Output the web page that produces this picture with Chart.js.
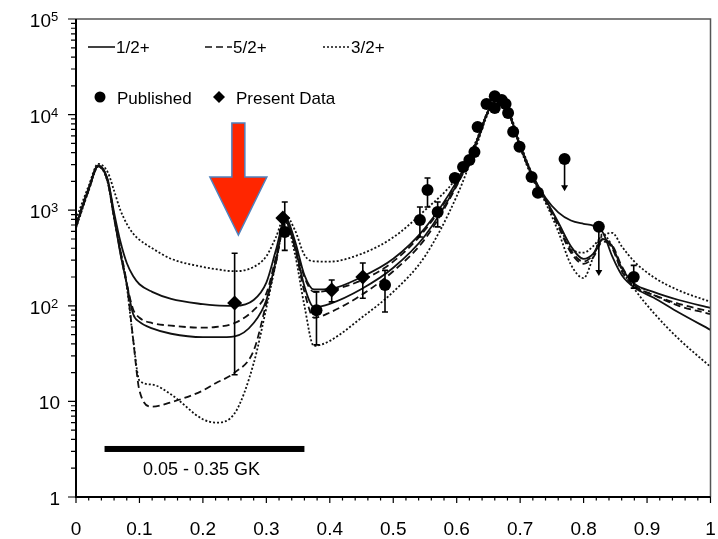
<!DOCTYPE html>
<html><head><meta charset="utf-8">
<script src="https://cdn.jsdelivr.net/npm/chart.js@4.4.1/dist/chart.umd.min.js"></script>
<style>html,body{margin:0;padding:0;background:#fff;}#wrap{width:718px;height:539px;}</style>
</head><body><div id="wrap"><canvas id="c" width="718" height="539"></canvas></div>
<script>
// ---------- data ----------
const xGrid = [0,0.02,0.035,0.05,0.06,0.07,0.08,0.09,0.1,0.12,0.15,0.2,0.22,0.25,0.28,0.3,0.315,0.33,0.345,0.36,0.375,0.4,0.45,0.5,0.55,0.6,0.63,0.65,0.665,0.68,0.7,0.72,0.74,0.76,0.78,0.8,0.815,0.83,0.845,0.86,0.88,0.91,0.95,1.0];
const half1A = [700,1700,2950,2100,950,470,280,205,168,140,118,104,101,100,115,175,380,830,480,210,148,150,200,310,650,2000,5000,11000,14500,11500,4800,2300,1350,950,780,720,690,590,330,210,155,122,85,56];
const half1B = [680,1650,2900,2000,850,350,170,82,68,58,51,47,47,48,66,115,300,780,420,160,97,105,150,250,540,1850,4900,11000,14300,11300,4700,2200,1300,750,420,310,350,500,420,250,170,140,115,95];
const half5A = [720,1680,2920,2050,880,360,170,92,75,66,62,59,60,66,90,135,320,800,450,200,140,145,185,290,620,1950,4900,11000,14300,11300,4700,2250,1280,700,380,290,340,490,400,230,160,130,105,87];
const half5B = [660,1620,2880,2000,850,380,170,45,13,8.8,9.8,13,15.5,20,34,107,280,760,400,140,75,85,130,230,500,1800,4800,10800,14000,11000,4600,2200,1250,680,360,275,320,470,430,260,165,130,100,82];
const half3A = [800,1800,3050,2500,1600,1000,720,570,490,400,310,255,242,230,255,330,520,880,620,340,292,290,350,520,1000,2200,5200,11200,14600,11800,5000,2300,1300,720,400,360,420,540,580,420,290,200,145,110];
const half3B = [650,1600,2850,1950,820,380,160,45,16.5,15,11.8,6.5,6.0,7.5,25,95,280,750,350,100,38,43,75,140,330,1400,4500,10500,14000,11000,4500,2100,1200,600,270,195,320,560,420,240,150,85,45,23];

const pubX  = [0.329,0.379,0.487,0.542,0.554,0.570,0.597,0.610,0.620,0.628,0.633,0.647,0.660,0.660,0.671,0.677,0.681,0.689,0.699,0.718,0.728,0.770,0.824,0.879];
const pubY  = [590,90,165,790,1630,960,2170,2830,3350,4060,7400,12900,15600,11700,14200,12900,10400,6600,4600,2220,1520,3430,670,200];
const pubLo = [380,39,86,525,1080,670,null,null,null,null,null,null,null,null,null,null,null,null,null,null,null,null,null,153];
const pubHi = [1220,140,235,1080,2170,1220,null,null,null,null,null,null,null,null,null,null,null,null,null,null,null,null,null,265];
const pubLimitTo = [null,null,null,null,null,null,null,null,null,null,null,null,null,null,null,null,null,null,null,null,null,1620,210,null];

const presX  = [0.25,0.326,0.403,0.452];
const presY  = [107,830,146,200];
const presLo = [19,null,110,120];
const presHi = [355,null,186,280];

const xTickValues = [0,0.1,0.2,0.3,0.4,0.5,0.6,0.7,0.8,0.9,1];
const xTickLabels = ['0','0.1','0.2','0.3','0.4','0.5','0.6','0.7','0.8','0.9','1'];
const yTickValues = [1,10,100,1000,10000,100000];
const yTickBase = ['1','10','10','10','10','10'];
const yTickExp  = ['','','2','3','4','5'];

const legendLines = ['1/2+','5/2+','3/2+'];
const legendMarks = ['Published','Present Data'];
const rangeLabel = '0.05 - 0.35 GK';
const rangeFrom = 0.045, rangeTo = 0.36;

// ---------- build ----------
const pts = arr => arr.map((v,i)=>({x:xGrid[i], y:v}));
const SOLID = [], DASH = [7,4], DOT = [2,2];
function curve(label, arr, dash){
  return {type:'line', label, data:pts(arr), borderColor:'#111', borderWidth:1.8, borderDash:dash,
          pointRadius:0, fill:false, cubicInterpolationMode:'monotone', order:2};
}
const datasets = [
  curve('1/2+ a', half1A, SOLID), curve('1/2+ b', half1B, SOLID),
  curve('5/2+ a', half5A, DASH),  curve('5/2+ b', half5B, DASH),
  curve('3/2+ a', half3A, DOT),   curve('3/2+ b', half3B, DOT),
  {type:'scatter', label:'Published', data:pubX.map((x,i)=>({x, y:pubY[i]})), pointStyle:'circle',
   pointRadius:6, backgroundColor:'#000', borderColor:'#000', borderWidth:0, order:1},
  {type:'scatter', label:'Present Data', data:presX.map((x,i)=>({x, y:presY[i]})), pointStyle:'rectRot',
   pointRadius:7.5, backgroundColor:'#000', borderColor:'#000', borderWidth:0, order:1}
];

const FONT = '"Liberation Sans", Arial, Helvetica, sans-serif';

const decor = {
  id:'decor',
  afterDatasetsDraw(chart){
    const {ctx, scales:{x, y}} = chart;
    ctx.save();
    ctx.strokeStyle = '#000'; ctx.fillStyle = '#000'; ctx.lineWidth = 1.6;
    const ebar = (xv, lo, hi) => {
      const px = x.getPixelForValue(xv), p1 = y.getPixelForValue(lo), p2 = y.getPixelForValue(hi);
      ctx.beginPath(); ctx.moveTo(px,p1); ctx.lineTo(px,p2);
      ctx.moveTo(px-3,p1); ctx.lineTo(px+3,p1); ctx.moveTo(px-3,p2); ctx.lineTo(px+3,p2); ctx.stroke();
    };
    pubX.forEach((xv,i)=>{ if(pubLo[i]!=null) ebar(xv,pubLo[i],pubHi[i]); });
    presX.forEach((xv,i)=>{ if(presLo[i]!=null) ebar(xv,presLo[i],presHi[i]); });
    pubX.forEach((xv,i)=>{
      if(pubLimitTo[i]==null) return;
      const px = x.getPixelForValue(xv), p1 = y.getPixelForValue(pubY[i]), p2 = y.getPixelForValue(pubLimitTo[i]);
      ctx.beginPath(); ctx.moveTo(px,p1); ctx.lineTo(px,p2-4); ctx.stroke();
      ctx.beginPath(); ctx.moveTo(px-3.5,p2-5); ctx.lineTo(px+3.5,p2-5); ctx.lineTo(px,p2+1); ctx.closePath(); ctx.fill();
    });
    ctx.restore();
  },
  afterDraw(chart){
    const {ctx, chartArea:a, scales:{x, y}} = chart;
    ctx.save();
    ctx.strokeStyle = '#555'; ctx.lineWidth = 1.5;
    ctx.beginPath(); ctx.moveTo(a.left, a.top); ctx.lineTo(a.right, a.top); ctx.lineTo(a.right, a.bottom); ctx.stroke();
    ctx.strokeStyle = '#000'; ctx.lineWidth = 2;
    ctx.beginPath(); ctx.moveTo(a.left, a.top); ctx.lineTo(a.left, a.bottom); ctx.lineTo(a.right, a.bottom); ctx.stroke();
    ctx.lineWidth = 1.2;
    ctx.beginPath();
    for(let d=0; d<=5; d++){
      for(let m=1; m<=9; m++){
        const v = m*Math.pow(10,d); if(v>100000) break;
        const py = y.getPixelForValue(v);
        ctx.moveTo(a.left, py); ctx.lineTo(a.left-(m===1?8:5), py);
      }
    }
    for(let i=0;i<=50;i++){
      const px = x.getPixelForValue(i*0.02);
      ctx.moveTo(px, a.bottom); ctx.lineTo(px, a.bottom+(i%5===0?6:3.5));
    }
    ctx.stroke();
    ctx.fillStyle = '#000';
    ctx.font = '19px '+FONT; ctx.textAlign='center'; ctx.textBaseline='alphabetic';
    xTickValues.forEach((v,i)=>ctx.fillText(xTickLabels[i], x.getPixelForValue(v), a.bottom+38));
    yTickValues.forEach((v,i)=>{
      const py = y.getPixelForValue(v);
      if(yTickExp[i]){
        ctx.font='19px '+FONT; ctx.textAlign='right'; ctx.fillText(yTickBase[i], a.left-25, py+8);
        ctx.font='13px '+FONT; ctx.textAlign='left'; ctx.fillText(yTickExp[i], a.left-25, py+2);
      } else {
        ctx.font='19px '+FONT; ctx.textAlign='right'; ctx.fillText(yTickBase[i], a.left-16, py+8);
      }
    });
    const lx = a.left, ly = a.top;
    ctx.strokeStyle='#111'; ctx.lineWidth=1.6; ctx.font='17px '+FONT; ctx.textAlign='left';
    const dashes=[SOLID,DASH,DOT], lxs=[12,129,247];
    legendLines.forEach((t,i)=>{
      ctx.setLineDash(dashes[i]);
      ctx.beginPath(); ctx.moveTo(lx+lxs[i], ly+28); ctx.lineTo(lx+lxs[i]+27, ly+28); ctx.stroke();
      ctx.setLineDash([]);
      ctx.fillText(t, lx+lxs[i]+28, ly+34);
    });
    ctx.beginPath(); ctx.arc(lx+24, ly+78, 5.5, 0, Math.PI*2); ctx.fill();
    ctx.fillText(legendMarks[0], lx+41, ly+85);
    ctx.beginPath(); ctx.moveTo(lx+143, ly+72); ctx.lineTo(lx+149, ly+78); ctx.lineTo(lx+143, ly+84); ctx.lineTo(lx+137, ly+78); ctx.closePath(); ctx.fill();
    ctx.fillText(legendMarks[1], lx+160, ly+85);
    const bx1 = x.getPixelForValue(rangeFrom), bx2 = x.getPixelForValue(rangeTo), by = y.getPixelForValue(3.18);
    ctx.fillRect(bx1, by-3, bx2-bx1, 6);
    ctx.font='18px '+FONT; ctx.textAlign='center';
    ctx.fillText(rangeLabel, (bx1+bx2)/2 - 3, by+26);
    const cx = x.getPixelForValue(0.2559), hw = 6.5, hh = 28.5;
    const yTop = y.getPixelForValue(8150), yBase = y.getPixelForValue(2220), yTip = y.getPixelForValue(550);
    ctx.beginPath();
    ctx.moveTo(cx-hw, yTop); ctx.lineTo(cx+hw, yTop); ctx.lineTo(cx+hw, yBase); ctx.lineTo(cx+hh, yBase);
    ctx.lineTo(cx, yTip); ctx.lineTo(cx-hh, yBase); ctx.lineTo(cx-hw, yBase); ctx.closePath();
    ctx.fillStyle='#FF2600'; ctx.fill();
    ctx.strokeStyle='#4F81BD'; ctx.lineWidth=1.5; ctx.stroke();
    ctx.restore();
  }
};

new Chart(document.getElementById('c'), {
  type:'scatter',
  data:{datasets},
  options:{
    responsive:false, animation:false, devicePixelRatio:1,
    layout:{padding:{left:76, right:7, top:19, bottom:42}},
    plugins:{legend:{display:false}, tooltip:{enabled:false}},
    scales:{
      x:{type:'linear', min:0, max:1, display:false},
      y:{type:'logarithmic', min:1, max:100000, display:false}
    }
  },
  plugins:[decor]
});
</script></body></html>
